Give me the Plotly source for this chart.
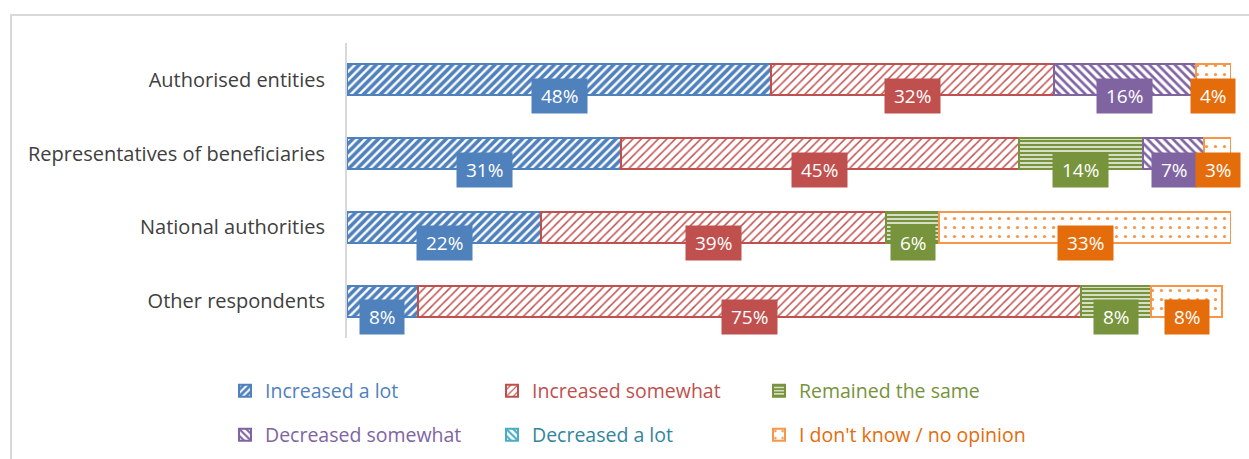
import plotly.graph_objects as go

# Survey responses (% of respondents) per respondent group
groups = ["Authorised entities", "Representatives of beneficiaries",
          "National authorities", "Other respondents"]

increased_lot = [48, 31, 22, 8]
increased_some = [32, 45, 39, 75]
remained_same = [0, 14, 6, 8]
decreased_some = [16, 7, 0, 0]
decreased_lot = [None, None, None, None]
dont_know = [4, 3, 33, 8]

series = [
    # name, values, outline/fg colour, label/legend colour, pattern shape, size, solidity, legend
    ("Increased a lot", increased_lot, "#4F81BD", "#4F81BD", "/", 6, 0.6, "legend"),
    ("Increased somewhat", increased_some, "#C0504D", "#C0504D", "/", 6, 0.25, "legend"),
    ("Remained the same", remained_same, "#77933C", "#77933C", "-", 4, 0.65, "legend"),
    ("Decreased somewhat", decreased_some, "#8064A2", "#8064A2", "\\", 6, 0.45, "legend2"),
    ("Decreased a lot", decreased_lot, "#4BACC6", "#31859C", "\\", 6, 0.45, "legend2"),
    ("I don't know / no opinion", dont_know, "#F79646", "#E46C0A", ".", 9, 0.1, "legend2"),
]

FONT = "Open Sans"
W, H = 1249, 459

fig = go.Figure()
annotations = []
cum = [0.0] * len(groups)

for name, vals, col, lab_col, shape, size, sol, leg in series:
    fig.add_trace(go.Bar(
        name=f"<span style='color:{lab_col}'>{name}</span>",
        y=groups, x=vals, orientation="h",
        legend=leg,
        marker=dict(
            color="white",
            line=dict(color=col, width=2),
            pattern=dict(shape=shape, fgcolor=col, bgcolor="white",
                         size=size, solidity=sol, fillmode="replace"),
        ),
        hoverinfo="skip",
    ))
    for i, v in enumerate(vals):
        if v:
            annotations.append(dict(
                x=cum[i] + v / 2, y=groups[i], xref="x", yref="y",
                text=f" {v}% ", showarrow=False, yshift=-16,
                bgcolor=lab_col, borderpad=4,
                font=dict(family=FONT, size=19, color="white"),
            ))
            cum[i] += v

legend_common = dict(
    orientation="h", xanchor="left", yanchor="middle",
    xref="container", yref="container",
    traceorder="normal",
    font=dict(family=FONT, size=19.5),
    entrywidth=222, bgcolor="rgba(0,0,0,0)",
)

fig.update_layout(
    width=W, height=H,
    margin=dict(l=347, r=18, t=43, b=121, autoexpand=False),
    paper_bgcolor="white", plot_bgcolor="white",
    barmode="stack", bargap=0.58,
    showlegend=True,
    legend=dict(x=225 / W, y=1 - 391 / H, **legend_common),
    legend2=dict(x=225 / W, y=1 - 435 / H, **legend_common),
    xaxis=dict(range=[0, 100], visible=False, fixedrange=True),
    yaxis=dict(
        categoryorder="array", categoryarray=groups, autorange="reversed",
        showline=True, linecolor="#D9D9D9", linewidth=2,
        showgrid=False, zeroline=False, ticks="",
        ticklabelstandoff=16,
        tickfont=dict(family=FONT, size=20, color="#404040"),
    ),
    annotations=annotations,
    shapes=[dict(type="rect", xref="paper", yref="paper",
                 x0=(11 - 347) / 884, x1=1.2, y0=-1.0, y1=1 + (43 - 15) / 295,
                 line=dict(color="#D9D9D9", width=2), fillcolor="rgba(0,0,0,0)",
                 layer="below")],
)

fig.write_html("out.html")
